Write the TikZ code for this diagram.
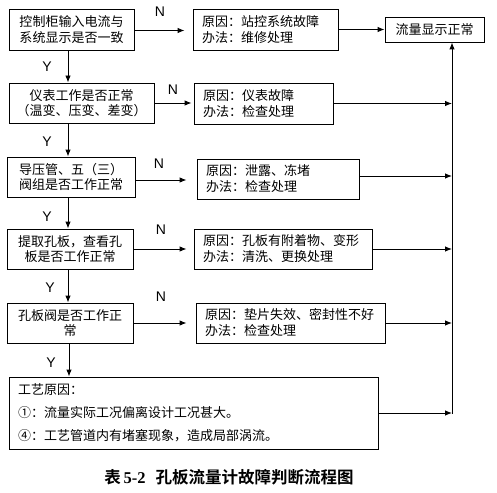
\documentclass[tikz,border=0pt]{standalone}
\usepackage{fontspec}
\setmainfont{Noto Sans CJK SC}
\newfontfamily\latin{Liberation Sans}
\newfontfamily\capfont{Noto Sans CJK SC Bold}
\newfontfamily\serifb{Liberation Serif Bold}
\usetikzlibrary{arrows.meta,calc}
\begin{document}
\begin{tikzpicture}[x=1pt,y=-1pt,
  every node/.style={font=\fontsize{13}{15.5}\selectfont},
  box/.style={draw, line width=0.9pt, inner sep=0pt, align=center},
  rbox/.style={draw, line width=0.9pt, inner xsep=9pt, inner ysep=0pt, align=left},
  arr/.style={line width=0.9pt, -{Latex[length=7pt,width=5.5pt]}},
  yn/.style={font=\latin\fontsize{14}{14}\selectfont, inner sep=0pt}]
\useasboundingbox (0,0) rectangle (497,492);

% left question boxes
\node[box, minimum width=125pt, minimum height=41pt] (q1) at (71.5,29.5) {控制柜输入电流与\\系统显示是否一致};
\node[box, minimum width=145pt, minimum height=40pt] (q2) at (81.5,103) {仪表工作是否正常\\（温变、压变、差变）};
\node[box, minimum width=128pt, minimum height=40pt] (q3) at (71,177) {导压管、五（三）\\阀组是否工作正常};
\node[box, minimum width=126pt, minimum height=40pt] (q4) at (70,249) {提取孔板，查看孔\\板是否工作正常};
\node[box, minimum width=126pt, minimum height=40pt] (q5) at (70,323) {孔板阀是否工作正\\常};
\node[rbox, text width=351pt, minimum height=72pt, font=\fontsize{13}{23}\selectfont] (q6) at (193.5,413) {工艺原因：\\①：流量实际工况偏离设计工况甚大。\\④：工艺管道内有堵塞现象，造成局部涡流。};

% right boxes
\node[rbox, text width=127pt, minimum height=41pt, font=\fontsize{13}{16}\selectfont] (r1) at (265.5,29.5) {原因：站控系统故障\\办法：维修处理};
\node[rbox, text width=121pt, minimum height=41pt, font=\fontsize{13}{16}\selectfont] (r2) at (263.5,103.5) {原因：仪表故障\\办法：检查处理};
\node[rbox, text width=144pt, minimum height=40pt, font=\fontsize{13}{16}\selectfont] (r3) at (278,179) {原因：泄露、冻堵\\办法：检查处理};
\node[rbox, text width=160pt, minimum height=40pt, font=\fontsize{13}{16}\selectfont] (r4) at (283,249) {原因：孔板有附着物、变形\\办法：清洗、更换处理};
\node[rbox, text width=171pt, minimum height=40pt, font=\fontsize{13}{16}\selectfont] (r5) at (290.5,323) {原因：垫片失效、密封性不好\\办法：检查处理};
\node[box, minimum width=99pt, minimum height=25pt] (ok) at (434.5,29.5) {流量显示正常};

% Y / N labels
\node[yn] (n1) at (160,12) {N};
\node[yn] (n2) at (173,90) {N};
\node[yn] (n3) at (159,164) {N};
\node[yn] (n4) at (161,230) {N};
\node[yn] (n5) at (161,297) {N};
\node[yn] (y1) at (47,67) {Y};
\node[yn] (y2) at (47,142) {Y};
\node[yn] (y3) at (47,217) {Y};
\node[yn] (y4) at (50,288) {Y};
\node[yn] (y5) at (51,363) {Y};

% caption
\node (cap) at (229,477) {\fontsize{16.5}{18}\selectfont{\capfont 表}\,{\serifb 5-2}\hspace{0.6em}{\capfont 孔板流量计故障判断流程图}};

% helper coordinates
\coordinate (vx) at (68,0);
\coordinate (vb) at (452,414);

% vertical Y arrows
\draw[arr] (q1.south -| vx) -- (q2.north -| vx);
\draw[arr] (q2.south -| vx) -- (q3.north -| vx);
\draw[arr] (q3.south -| vx) -- (q4.north -| vx);
\draw[arr] (q4.south -| vx) -- (q5.north -| vx);
\draw[arr] ($(q5.south -| vx)+(1,0)$) -- ($(q6.north -| vx)+(1,0)$);

% N arrows
\draw[arr, shorten >=8pt] ($(q1.east)+(0,1)$) -- ($(q1.east -| r1.west)+(0,1)$);
\draw[arr, shorten >=2pt] (q2.east) -- (q2.east -| r2.west);
\draw[arr, shorten >=10pt] ($(q3.east)+(0,3)$) -- ($(q3.east -| r3.west)+(0,3)$);
\draw[arr, shorten >=7pt] (q4.east) -- (q4.east -| r4.west);
\draw[arr, shorten >=9pt] (q5.east) -- (q5.east -| r5.west);

% to the right collector line
\draw[arr] (r1.east) -- (r1.east -| ok.west);
\draw[arr] (vb) -- (vb |- ok.south);
\draw[arr] (r2.east) -- (r2.east -| vb);
\draw[arr] ($(r3.east)+(0,-3)$) -- ($(r3.east -| vb)+(0,-3)$);
\draw[arr] (r4.east) -- (r4.east -| vb);
\draw[arr] (r5.east) -- (r5.east -| vb);
\draw[arr] (q6.east) -- (q6.east -| vb);
\end{tikzpicture}
\end{document}
